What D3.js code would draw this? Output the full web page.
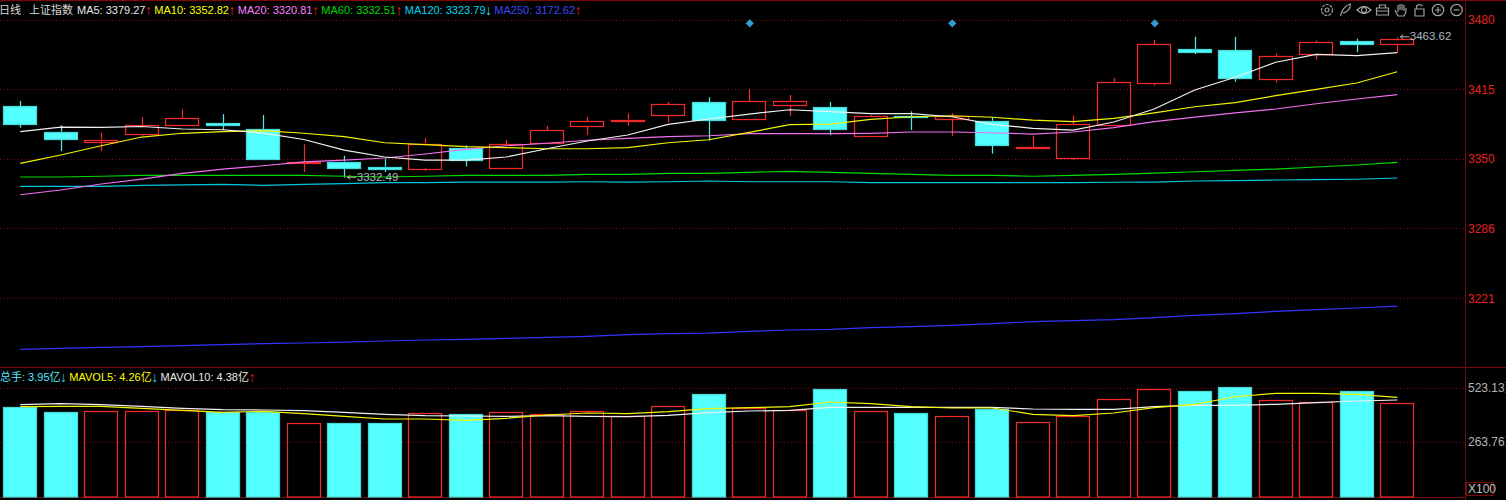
<!DOCTYPE html>
<html><head><meta charset="utf-8">
<style>html,body{margin:0;padding:0;background:#000;overflow:hidden}svg{display:block}
text{font-family:"Liberation Sans",Arial,"Noto Sans CJK SC",sans-serif}</style>
<script src="https://cdn.jsdelivr.net/npm/d3@7/dist/d3.min.js"></script></head><body>
<svg id="c" width="1506" height="500"></svg>
<script>
const opens =[3399.7,3375.8,3367.1,3373.3,3382,3383.4,3378.3,3347.1,3348,3343.2,3341.7,3360.3,3341.7,3365,3380.4,3386,3390.7,3403.1,3387.3,3400,3398.8,3371.1,3390.1,3387.9,3386,3360.6,3351.3,3382,3420.8,3452.7,3451.8,3424.8,3447.4,3459.9,3457.7];
const closes=[3382.65,3369.25,3368.5,3381.7,3388.5,3382,3350.1,3348,3342.6,3341.7,3364.6,3349.4,3364,3377.3,3385.4,3386.9,3401.3,3386.4,3404.1,3404.1,3378.6,3390.1,3389.2,3390.4,3364,3361.2,3382.7,3421.7,3457.1,3449.7,3425.7,3445.9,3459,3456.7,3462];
const highs =[3404.3,3381.7,3374.8,3389.4,3396.6,3392.2,3391.3,3364,3353.4,3350.6,3369.9,3363.1,3368,3381.1,3389.4,3392.9,3403.4,3407.8,3415.5,3409.9,3403.4,3391.3,3394.7,3393.2,3389.2,3372,3391,3425.7,3461.1,3464.2,3463.9,3448.7,3460.8,3462.3,3463.62];
const lows  =[3379.5,3357.8,3357.8,3371.8,3382,3377.3,3350.1,3338.3,3333,3338.3,3339.2,3343.6,3341.7,3365,3372.7,3381.1,3384.5,3367.4,3387.3,3390.4,3372.4,3371.1,3377.3,3371.8,3355.3,3359.7,3349.4,3382,3418.6,3448.1,3422.3,3421.4,3443.1,3449.7,3449];
const ma5  =[3375.9,3380.1,3379.7,3380.6,3378.3,3377.6,3374.5,3368.5,3358.7,3352.2,3349.4,3349.4,3352.2,3359.9,3367.1,3372.7,3382.6,3387.6,3392.2,3396.2,3394.4,3392.5,3392.5,3389.7,3382.6,3378.9,3377.3,3384.8,3396.9,3414.6,3426.4,3440.4,3447.8,3446.5,3449.3];
const ma10 =[3346.3,3354.1,3362.7,3370.8,3374.3,3375.8,3376.7,3374.3,3371.1,3365.5,3363.7,3361.8,3360.9,3359.9,3359.9,3360.9,3365.5,3368.3,3375.2,3382.3,3382.9,3387.3,3389.7,3390.6,3389.2,3386.6,3385.1,3388.2,3393.2,3399,3402.8,3409.3,3415.2,3421.1,3431.6];
const ma20 =[3317.1,3321.5,3327.1,3331.7,3337,3341,3344.1,3347.6,3349.4,3351.3,3355,3359.4,3362.7,3365,3367.8,3369.6,3371.1,3372,3373.9,3373.9,3373.9,3374.3,3375.5,3375.5,3374.8,3373.6,3375.5,3379.5,3385.1,3389.4,3393.2,3396.9,3401.8,3406.2,3410.2];
const ma60 =[3333.6,3333.6,3334.3,3335.2,3335.2,3335.2,3335.2,3335.2,3334.3,3333.6,3334.3,3335.2,3335.2,3335.2,3336.1,3336.1,3337,3337,3338,3338.9,3338,3337,3336.1,3335.2,3335.2,3334.3,3335.2,3336.1,3337.3,3338.5,3339.8,3341,3342.9,3344.8,3347.3];
const ma120=[3324.9,3324.9,3324.9,3325.9,3326.2,3326.8,3325.9,3326.8,3327.4,3328.3,3328.3,3328.9,3328.9,3328.9,3329.2,3328.9,3329.2,3329.9,3329.2,3329.2,3329.2,3328.3,3328.3,3328.3,3328.3,3328.3,3328.3,3328.7,3328.9,3329.9,3330.2,3330.8,3331.1,3331.5,3332.7];
const ma250=[3173.2,3174.1,3175.1,3175.7,3176.6,3177.6,3178.5,3179.1,3180,3181,3181.9,3182.5,3183.4,3184.4,3185.3,3186.9,3187.8,3188.4,3190,3191.2,3191.8,3193.4,3194.3,3195.5,3197.1,3199,3199.9,3200.8,3202.7,3204.9,3206.4,3208.6,3210.1,3211.7,3213.5];
const volume =[429.9,404.4,410.7,410.7,415.5,404.4,407.3,354.5,351.6,351.6,399.6,394.8,407.3,394.8,412.1,386,433.2,490.9,426.5,415.5,517.8,412.1,399.6,385.2,420.3,357.8,388.1,468.3,517.8,505.3,525.9,464.9,452.4,505.3,447.6];
const mavol5 =[431.3,433.2,433.2,423.6,414,404.4,409.2,397.7,385.2,372.2,372.2,366,375.6,391.4,401,397.7,407.3,421.7,426.5,431.3,453.9,445.7,431.3,425.1,425.1,394.8,388.1,401,426.5,442.8,479.3,495.7,495.7,490.9,476.5];
const mavol10=[440.9,445.7,440.9,433.2,423.6,416.9,415.5,412.1,404.4,394.8,388.1,386.6,385.2,388.1,385.2,383.3,390,402.5,410.7,414,428.4,428.4,428.4,428.4,428.4,420.3,418.8,418.8,431.3,438,438,442.8,450.5,458.7,463.5];
const priceTicks=[3480,3415.25,3350.5,3285.75,3221];
const priceLabels=["3480","3415","3350","3286","3221"];
const volTicks=[523.13,263.76];
const volLabels=["523.13万","263.76万"];
const signalDays=[18,23,28];
const lowDay=8, lowText="3332.49", lastDay=34, lastText="3463.62";
const header=[["日线","#d8d8d8"],["上证指数","#d8d8d8"]];
const maLegend=[["MA5: 3379.27","↑","#e8e8e8","#e02020"],["MA10: 3352.82","↑","#ffff00","#e02020"],["MA20: 3320.81","↑","#ff80ff","#e02020"],["MA60: 3332.51","↑","#00d800","#e02020"],["MA120: 3323.79","↓","#00d8f0","#40e0e0"],["MA250: 3172.62","↑","#3c46ff","#e02020"]];
const volLegend=[["总手: 3.95亿","↓","#54e8ff","#40c8e8"],["MAVOL5: 4.26亿","↓","#ffff00","#40c8e8"],["MAVOL10: 4.38亿","↑","#e8e8e8","#e02020"]];

const RED="#ee2a2a",CYAN="#54ffff",GRID="#860808",AXIS="#7d0808";
const svg=d3.select("#c");
svg.append("rect").attr("width",1506).attr("height",500).attr("fill","#000");
const days=d3.range(opens.length);
const x=d3.scaleBand().domain(days).range([0,1417.5]).paddingInner(0.17).paddingOuter(0.085);
const cx=i=>x(i)+x.bandwidth()/2;
const y=d3.scaleLinear().domain([3480,3221]).range([19.7,298]);
const v=d3.scaleLinear().domain([0,523.13]).range([496.5,387.6]);
const RIGHT=1465.5;

// grid
svg.append("g").selectAll("line").data(priceTicks.map(y).concat(volTicks.map(v))).join("line")
 .attr("x1",0).attr("x2",RIGHT).attr("y1",d=>Math.round(d)+.5).attr("y2",d=>Math.round(d)+.5)
 .attr("stroke",GRID).attr("stroke-dasharray","1,2.5");
// frame
const frame=svg.append("g").attr("stroke",AXIS).attr("stroke-width",1).attr("shape-rendering","crispEdges");
frame.append("line").attr("x1",0).attr("x2",1506).attr("y1",.5).attr("y2",.5);
frame.append("line").attr("x1",0).attr("x2",1506).attr("y1",367.5).attr("y2",367.5);
frame.append("line").attr("x1",0).attr("x2",RIGHT).attr("y1",497.5).attr("y2",497.5);
frame.append("line").attr("x1",RIGHT).attr("x2",RIGHT).attr("y1",0).attr("y2",500);

// volume bars
const isDown=i=>closes[i]<opens[i];
svg.append("g").selectAll("rect").data(days).join("rect")
 .attr("x",i=>Math.round(x(i))+.5).attr("width",Math.round(x.bandwidth())-1)
 .attr("y",i=>Math.round(v(volume[i]))+.5).attr("height",i=>v(0)-Math.round(v(volume[i])))
 .attr("fill",i=>isDown(i)?CYAN:"none").attr("stroke",i=>isDown(i)?"#45d8d8":RED).attr("stroke-width",1.25);

// wicks and candle bodies
const wicks=svg.append("g");
days.forEach(i=>{
  const top=Math.max(opens[i],closes[i]),bot=Math.min(opens[i],closes[i]),col=isDown(i)?"#50eaea":RED,X=Math.round(cx(i))+.5;
  wicks.append("line").attr("x1",X).attr("x2",X).attr("y1",y(highs[i])).attr("y2",y(top)).attr("stroke",col).attr("stroke-width",1.25);
  wicks.append("line").attr("x1",X).attr("x2",X).attr("y1",y(bot)).attr("y2",y(lows[i])).attr("stroke",col).attr("stroke-width",1.25);
});
svg.append("g").selectAll("rect").data(days).join("rect")
 .attr("x",i=>Math.round(x(i))+.5).attr("width",Math.round(x.bandwidth())-1)
 .attr("y",i=>Math.round(y(Math.max(opens[i],closes[i])))+.5)
 .attr("height",i=>Math.max(1,Math.round(y(Math.min(opens[i],closes[i]))-y(Math.max(opens[i],closes[i])))))
 .attr("fill",i=>isDown(i)?CYAN:"none").attr("stroke",i=>isDown(i)?"#45d8d8":RED).attr("stroke-width",1.25);

// moving averages
function drawLine(vals,scale,col){
  svg.append("path").datum(vals).attr("fill","none").attr("stroke",col).attr("stroke-width",1.2)
   .attr("d",d3.line().x((d,i)=>cx(i)).y(d=>scale(d)));
}
drawLine(ma250,y,"#3434ff");drawLine(ma120,y,"#00c8e0");drawLine(ma60,y,"#00dc00");
drawLine(ma20,y,"#f070f0");drawLine(ma10,y,"#f4f400");drawLine(ma5,y,"#f0f0f0");
drawLine(mavol10,v,"#f0f0f0");drawLine(mavol5,v,"#f4f400");

// signal diamonds
svg.append("g").selectAll("path").data(signalDays).join("path")
 .attr("d",d3.symbol(d3.symbolDiamond2||d3.symbolDiamond,44)())
 .attr("transform",i=>`translate(${cx(i)+.5},23.3)`).attr("fill","#2c9ed0");

// price callouts
function callout(day,val,txt){
  const X=cx(day)+1,Y=y(val);
  const g=svg.append("g");
  g.append("path").attr("d",`M${X+2} ${Y-.5}h9M${X+2} ${Y-.5}l3,-2M${X+2} ${Y-.5}l3,2`).attr("stroke","#b0b0b0").attr("fill","none");
  g.append("text").attr("x",X+11.5).attr("y",Y+3).attr("font-size",11.5).attr("fill","#b0b8c0").text(txt);
}
callout(lowDay,3332.9,lowText);callout(lastDay,3463.62,lastText);

// axes
const labelAxis=(ticks,labels,scale,col)=>svg.append("g").selectAll("text").data(ticks).join("text")
 .attr("x",1468).attr("y",d=>scale(d)+4.5).attr("font-size",12).attr("fill",col).text((d,i)=>labels[i]);
labelAxis(priceTicks,priceLabels,y,"#e82222");
labelAxis(volTicks,volLabels,v,"#b4b4b4");
svg.append("rect").attr("x",1466.5).attr("y",482.5).attr("width",27).attr("height",13).attr("fill","#000").attr("stroke",AXIS);
svg.append("text").attr("x",1468).attr("y",493).attr("font-size",12).attr("fill","#c0c0c0").text("X100");

// legends
function flow(items,startX,Y,gap,size){
  let X=startX;
  items.forEach(([t,a,c,ac])=>{
    const n=svg.append("text").attr("x",X).attr("y",Y).attr("font-size",size).attr("fill",c).text(t);
    X+=n.node().getComputedTextLength();
    svg.append("text").attr("x",X-.5).attr("y",Y+.5).attr("font-size",size+3).attr("font-weight","bold").attr("fill",ac).text(a);
    X+=5+gap;
  });
}
svg.append("text").attr("x",-1).attr("y",14).attr("font-size",11).attr("fill",header[0][1]).text(header[0][0]);
svg.append("text").attr("x",29).attr("y",14).attr("font-size",11).attr("fill",header[1][1]).text(header[1][0]);
flow(maLegend,77,14,3.85,11);
flow(volLegend,0,381,3.8,11);

// toolbar icons
const icons=[
 g=>{g.append("circle").attr("r",5.5).attr("stroke-dasharray","3,1");g.append("circle").attr("r",2);},
 g=>{g.append("path").attr("d","M-5 6C-4 0 0 -5 5 -6C5 -1 1 3 -3 3");},
 g=>{g.append("path").attr("d","M-7 0Q0 -7 7 0Q0 7 -7 0Z");g.append("circle").attr("r",2.5);},
 g=>{g.append("path").attr("d","M-6 -2H6V5H-6ZM-6 1H6M-3 -2V-5H3V-2");},
 g=>{g.append("path").attr("d","M-3 6L-6 0M-3 2V-5M-1 0V-6M1 0V-6M3 1V-5M5 2V-2M-3 6H3L5 2");},
 g=>{g.append("path").attr("d","M-4.5 -1H4.5V6H-4.5ZM-3 -1V-4Q0 -7 3 -4");},
 g=>{g.append("circle").attr("r",5.7);g.append("path").attr("d","M-3 0H3M0 -3V3");},
 g=>{g.append("circle").attr("r",5.7);g.append("path").attr("d","M-3 0H3");}
];
const iconBox=d3.scaleLinear().domain([0,7]).range([1327,1456.5]);
icons.forEach((draw,i)=>{
  const g=svg.append("g").attr("transform",`translate(${iconBox(i)},10)`).attr("fill","none").attr("stroke","#a0a0a0").attr("stroke-width",1.2);
  draw(g);
});
</script></body></html>
